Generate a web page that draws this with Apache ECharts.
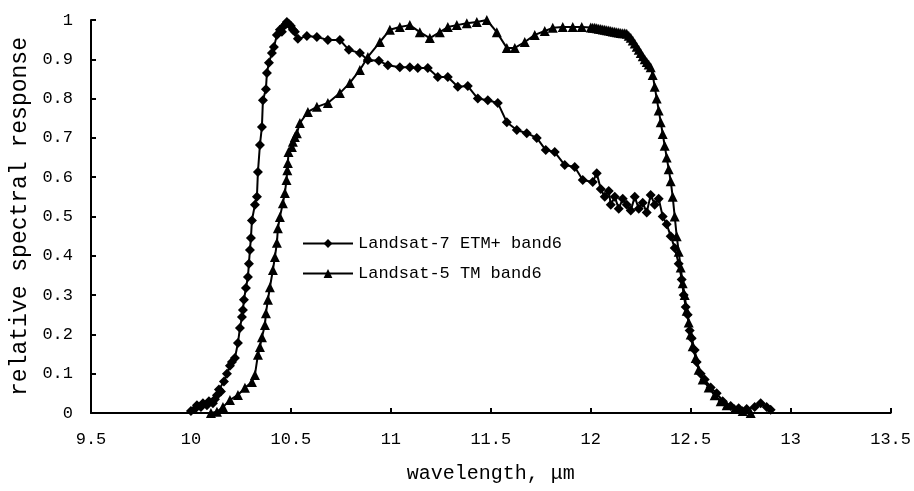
<!DOCTYPE html>
<html>
<head>
<meta charset="utf-8">
<script src="https://cdn.jsdelivr.net/npm/echarts@6/dist/echarts.min.js"></script>
<style>html,body{margin:0;padding:0;background:#fff}#c{width:914px;height:491px}</style>
</head>
<body>
<div id="c"></div>
<script>
var xTicks = [9.5, 10, 10.5, 11, 11.5, 12, 12.5, 13, 13.5];
var yTicks = [0, 0.1, 0.2, 0.3, 0.4, 0.5, 0.6, 0.7, 0.8, 0.9, 1];
var seriesNames = ['Landsat-7 ETM+ band6', 'Landsat-5 TM band6'];

var etmWavelength = [10.00,10.02,10.03,10.05,10.06,10.08,10.09,10.11,10.12,10.13,10.14,10.15,10.165,10.18,10.195,10.205,10.22,10.235,10.245,10.255,10.26,10.265,10.275,10.285,10.29,10.295,10.30,10.305,10.32,10.33,10.335,10.345,10.355,10.36,10.375,10.38,10.39,10.405,10.415,10.43,10.445,10.455,10.465,10.475,10.48,10.49,10.50,10.51,10.52,10.535,10.58,10.63,10.685,10.745,10.79,10.845,10.885,10.94,10.985,11.045,11.095,11.135,11.185,11.235,11.285,11.335,11.385,11.435,11.485,11.535,11.58,11.63,11.68,11.73,11.775,11.82,11.87,11.92,11.96,12.01,12.03,12.05,12.07,12.09,12.10,12.12,12.14,12.16,12.18,12.20,12.22,12.24,12.26,12.28,12.30,12.32,12.34,12.36,12.38,12.40,12.42,12.44,12.455,12.465,12.475,12.485,12.495,12.505,12.52,12.53,12.55,12.57,12.60,12.63,12.66,12.70,12.74,12.78,12.82,12.85,12.88,12.90];
var etmResponse = [0.005,0.01,0.02,0.015,0.025,0.02,0.03,0.025,0.035,0.045,0.06,0.055,0.08,0.10,0.12,0.13,0.14,0.178,0.216,0.244,0.262,0.288,0.318,0.346,0.38,0.415,0.445,0.49,0.53,0.55,0.613,0.682,0.728,0.796,0.824,0.865,0.891,0.916,0.931,0.962,0.975,0.97,0.985,0.99,0.995,0.99,0.985,0.975,0.97,0.952,0.959,0.957,0.949,0.949,0.924,0.916,0.898,0.896,0.885,0.88,0.88,0.878,0.878,0.855,0.855,0.83,0.832,0.80,0.796,0.789,0.74,0.72,0.712,0.70,0.669,0.664,0.631,0.626,0.593,0.588,0.61,0.57,0.55,0.565,0.53,0.55,0.52,0.545,0.53,0.515,0.55,0.52,0.535,0.51,0.555,0.53,0.545,0.50,0.48,0.45,0.42,0.38,0.34,0.30,0.27,0.25,0.21,0.19,0.16,0.13,0.10,0.085,0.065,0.05,0.03,0.018,0.012,0.01,0.015,0.025,0.015,0.008];

var tmWavelength = [10.10,10.13,10.16,10.195,10.235,10.27,10.305,10.32,10.335,10.345,10.355,10.37,10.375,10.385,10.395,10.41,10.42,10.43,10.435,10.445,10.46,10.47,10.478,10.482,10.485,10.488,10.505,10.51,10.52,10.53,10.545,10.585,10.63,10.685,10.745,10.795,10.845,10.885,10.945,10.995,11.045,11.095,11.145,11.195,11.245,11.285,11.33,11.38,11.43,11.48,11.53,11.58,11.62,11.67,11.72,11.77,11.81,11.86,11.91,11.955,12.00,12.01,12.02,12.03,12.04,12.05,12.06,12.07,12.08,12.09,12.10,12.11,12.12,12.13,12.14,12.15,12.16,12.17,12.18,12.19,12.20,12.21,12.22,12.23,12.24,12.25,12.26,12.27,12.28,12.29,12.30,12.31,12.32,12.33,12.34,12.35,12.36,12.37,12.38,12.39,12.40,12.41,12.42,12.43,12.44,12.45,12.46,12.47,12.48,12.49,12.50,12.51,12.525,12.54,12.56,12.59,12.62,12.65,12.68,12.72,12.76,12.80];
var tmResponse = [0.0,0.003,0.015,0.033,0.046,0.064,0.079,0.097,0.148,0.168,0.193,0.224,0.254,0.288,0.32,0.364,0.397,0.433,0.47,0.499,0.534,0.56,0.593,0.618,0.636,0.664,0.677,0.69,0.702,0.712,0.738,0.766,0.779,0.789,0.814,0.84,0.873,0.906,0.944,0.975,0.982,0.987,0.969,0.954,0.969,0.982,0.987,0.992,0.995,1.0,0.969,0.929,0.929,0.944,0.962,0.972,0.98,0.982,0.982,0.982,0.981,0.98,0.98,0.979,0.978,0.977,0.976,0.975,0.974,0.973,0.972,0.971,0.97,0.969,0.968,0.967,0.966,0.966,0.965,0.96,0.955,0.948,0.94,0.932,0.924,0.916,0.908,0.9,0.893,0.887,0.88,0.86,0.83,0.80,0.77,0.74,0.71,0.68,0.65,0.62,0.59,0.55,0.50,0.45,0.41,0.37,0.33,0.30,0.26,0.23,0.20,0.17,0.14,0.11,0.085,0.065,0.045,0.03,0.02,0.01,0.005,0.0];

function pairs(xs, ys) { return xs.map(function (x, i) { return [x, ys[i]]; }); }

var FONT = 'Liberation Mono';
var chart = echarts.init(document.getElementById('c'), null, { renderer: 'canvas' });
chart.setOption({
  animation: false,
  backgroundColor: '#ffffff',
  grid: { left: 91, right: 23, top: 20, bottom: 78, containLabel: false },
  legend: {
    orient: 'vertical',
    left: 297,
    top: 230,
    itemWidth: 50,
    itemHeight: 11,
    itemGap: 13,
    data: seriesNames,
    textStyle: { fontFamily: FONT, fontSize: 17, color: '#000' }
  },
  xAxis: {
    type: 'value',
    min: xTicks[0],
    max: xTicks[xTicks.length - 1],
    interval: 0.5,
    name: 'wavelength, \u03bcm',
    nameLocation: 'middle',
    nameGap: 51,
    nameTextStyle: { fontFamily: FONT, fontSize: 20, color: '#000' },
    axisLine: { lineStyle: { color: '#000', width: 2 } },
    axisTick: { inside: true, length: 5, lineStyle: { color: '#000', width: 2 } },
    axisLabel: { margin: 18, fontFamily: FONT, fontSize: 17, color: '#000' },
    splitLine: { show: false }
  },
  yAxis: {
    type: 'value',
    min: yTicks[0],
    max: yTicks[yTicks.length - 1],
    interval: 0.1,
    name: 'relative spectral response',
    nameLocation: 'middle',
    nameGap: 55,
    nameTextStyle: { fontFamily: FONT, fontSize: 23, color: '#000' },
    axisLine: { show: true, lineStyle: { color: '#000', width: 2 } },
    axisTick: { show: true, inside: true, length: 5, lineStyle: { color: '#000', width: 2 } },
    axisLabel: { margin: 18, fontFamily: FONT, fontSize: 17, color: '#000',
      formatter: function (v) { return String(Math.round(v * 10) / 10); } },
    splitLine: { show: false }
  },
  series: [
    {
      name: seriesNames[0],
      type: 'line',
      data: pairs(etmWavelength, etmResponse),
      symbol: 'diamond',
      symbolSize: 10,
      showAllSymbol: true,
      color: '#000',
      lineStyle: { color: '#000', width: 2 },
      itemStyle: { color: '#000' }
    },
    {
      name: seriesNames[1],
      type: 'line',
      data: pairs(tmWavelength, tmResponse),
      symbol: 'triangle',
      symbolSize: 10,
      showAllSymbol: true,
      color: '#000',
      lineStyle: { color: '#000', width: 2 },
      itemStyle: { color: '#000' }
    }
  ]
});
</script>
</body>
</html>
